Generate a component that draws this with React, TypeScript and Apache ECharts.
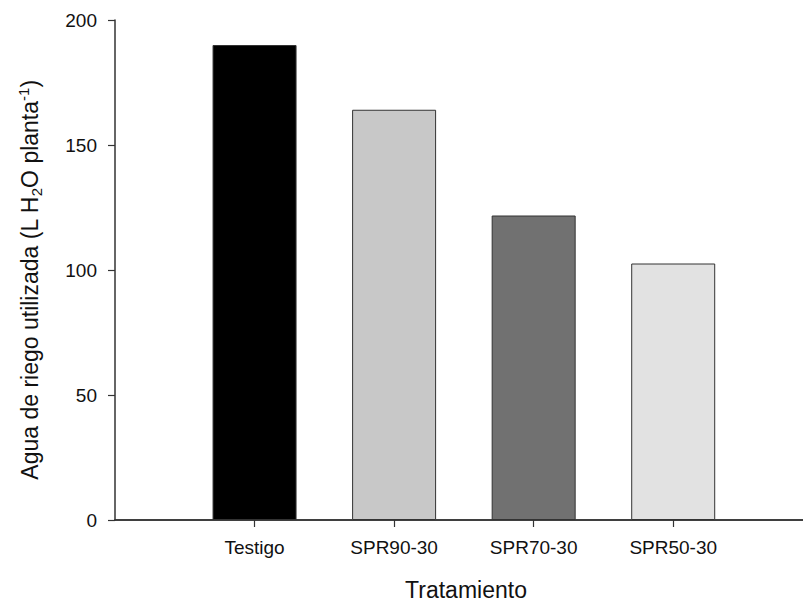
import React, { useEffect, useRef } from "react";
import * as echarts from "echarts";

const categories = ["Testigo", "SPR90-30", "SPR70-30", "SPR50-30"];
const values = [190, 164.1, 121.8, 102.6];
const barColors = ["#000000", "#c8c8c8", "#717171", "#e2e2e2"];
const yTicks = [0, 50, 100, 150, 200];

export default function App() {
  const ref = useRef<HTMLDivElement>(null);
  useEffect(() => {
    const chart = echarts.init(ref.current!, null, { renderer: "svg" });
    const font = "'Liberation Sans', Arial, sans-serif";
    chart.setOption({
      animation: false,
      backgroundColor: "#ffffff",
      grid: { left: 115, top: 20, right: 0, bottom: 82, containLabel: false },
      xAxis: [
        {
          type: "value",
          min: 0,
          max: 4.93,
          splitLine: { show: false },
          axisLine: { show: true, onZero: false, lineStyle: { color: "#333", width: 1.5 } },
          axisTick: { show: true, customValues: [1, 2, 3, 4], length: 7, lineStyle: { color: "#333", width: 1.2 } },
          axisLabel: {
            customValues: [1, 2, 3, 4],
            formatter: (v: number) => categories[Math.round(v) - 1] ?? "",
            fontFamily: font,
            fontSize: 19,
            color: "#111",
            margin: 18,
          },
        },
        {
          type: "value",
          position: "top",
          min: 0,
          max: 4.93,
          splitLine: { show: false },
          axisLine: { show: true, lineStyle: { color: "#333", width: 1.5 } },
          axisTick: { show: false },
          axisLabel: { show: false },
        },
      ],
      yAxis: {
        type: "value",
        min: 0,
        max: 200,
        interval: 50,
        splitLine: { show: false },
        axisLine: { show: true, lineStyle: { color: "#333", width: 1.5 } },
        axisTick: { show: true, length: 7, lineStyle: { color: "#333", width: 1.2 } },
        axisLabel: {
          fontFamily: font,
          fontSize: 19,
          color: "#111",
          margin: 18,
          formatter: (v: number) => (yTicks.includes(v) ? String(v) : ""),
        },
      },
      series: [
        {
          type: "bar",
          barWidth: 84,
          data: values.map((v, i) => ({
            value: [i + 1, v],
            itemStyle: { color: barColors[i], borderColor: "#333", borderWidth: 1 },
          })),
        },
      ],
      graphic: [
        {
          type: "text",
          x: 466,
          y: 590,
          style: {
            text: "Tratamiento",
            fontFamily: font,
            fontSize: 23,
            fill: "#111",
            align: "center",
            verticalAlign: "middle",
          },
        },
        {
          type: "text",
          x: 30,
          y: 280,
          rotation: Math.PI / 2,
          style: {
            text: "{n|Agua de riego utilizada (L H}{sub|2}{n|O planta}{sup|-1}{n|)}",
            fontFamily: font,
            fontSize: 23,
            fill: "#111",
            align: "center",
            verticalAlign: "middle",
            rich: {
              n: { fontSize: 23, fontFamily: font, fill: "#111", lineHeight: 28, verticalAlign: "middle" },
              sub: { fontSize: 15, fontFamily: font, fill: "#111", lineHeight: 28, verticalAlign: "bottom", padding: [11, 0, 0, 0] },
              sup: { fontSize: 15, fontFamily: font, fill: "#111", lineHeight: 28, verticalAlign: "top", padding: [0, 0, 9, 0] },
            },
          },
        },
      ],
    });
    return () => chart.dispose();
  }, []);
  return (
    <div
      ref={ref}
      style={{ position: "fixed", left: 0, top: 0, width: 803, height: 602, background: "#fff" }}
    />
  );
}
